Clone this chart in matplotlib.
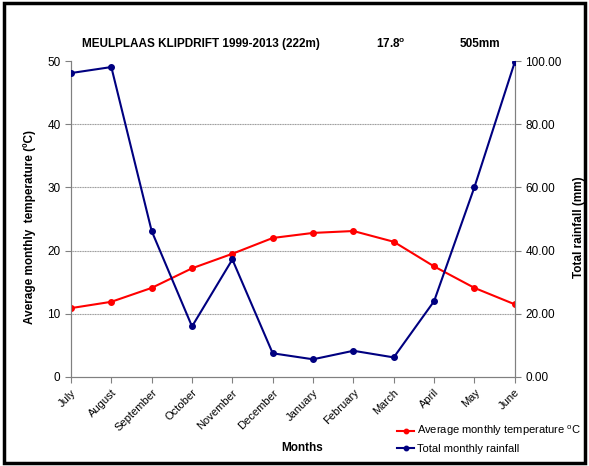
import numpy as np
import matplotlib.pyplot as plt
from matplotlib.patches import Rectangle

plt.rcParams['font.family'] = ['Liberation Sans', 'DejaVu Sans']

# data
months = ["July", "August", "September", "October", "November", "December",
          "January", "February", "March", "April", "May", "June"]
temp = [10.9, 11.9, 14.1, 17.2, 19.5, 22.0, 22.8, 23.1, 21.4, 17.5, 14.1, 11.5]
rain = [96.2, 98.1, 46.2, 16.0, 37.2, 7.5, 5.6, 8.3, 6.2, 24.0, 60.1, 99.7]

title = "MEULPLAAS KLIPDRIFT 1999-2013 (222m)"
mean_temp = "17.8$^{\\mathregular{o}}$"
total_rain = "505mm"

fig = plt.figure(figsize=(5.89, 4.66), dpi=100)
ax = fig.add_axes([0.1205, 0.191, 0.7535, 0.678])
ax2 = ax.twinx()

x = np.arange(len(months))

ax.set_ylim(0, 50)
ax.set_yticks([0, 10, 20, 30, 40, 50])
ax2.set_ylim(0, 100)
ax2.set_yticks([0, 20, 40, 60, 80, 100])
ax2.set_yticklabels([f"{v:.2f}" for v in [0, 20, 40, 60, 80, 100]])
ax.set_xlim(0, len(months) - 1)

for yv in [10, 20, 30, 40]:
    ax.axhline(yv, color="#999999", lw=0.8, ls=(0, (1, 0.5)), zorder=0)

l1, = ax.plot(x, temp, color="#ff0000", marker="o", ms=4, lw=1.5, zorder=3,
              label="Average monthly temperature $^{\\mathregular{o}}$C")
l2, = ax2.plot(x, rain, color="#000080", marker="o", ms=4, lw=1.5, zorder=3,
               label="Total monthly rainfall")

for a in (ax, ax2):
    a.spines["top"].set_visible(False)
    for s in ("left", "right", "bottom"):
        a.spines[s].set_color("#808080")
    a.tick_params(colors="#808080", labelcolor="black", labelsize=8.5,
                  length=4, direction="out")

ax.set_xticks(x)
ax.set_xticklabels(months, rotation=45, ha="right", rotation_mode="anchor",
                   fontsize=8)

ax.set_ylabel("Average monthly  temperature (ºC)", fontsize=8.5,
              fontweight="bold", labelpad=8, y=0.475)
ax2.set_ylabel("Total rainfall (mm)", fontsize=8.5, fontweight="bold",
               labelpad=8, y=0.475)

fig.text(0.139, 0.906, title, fontsize=8.5, fontweight="bold", va="center")
fig.text(0.638, 0.906, mean_temp, fontsize=8.5, fontweight="bold", va="center")
fig.text(0.781, 0.906, total_rain, fontsize=8.5, fontweight="bold", va="center")
fig.text(0.513, 0.038, "Months", fontsize=8.5, fontweight="bold",
         ha="center", va="center")

fig.legend(handles=[l1, l2], loc="center left",
           bbox_to_anchor=(0.664, 0.058), frameon=False, fontsize=8,
           handlelength=1.6, handletextpad=0.2, labelspacing=0.5,
           markerscale=0.8, borderpad=0)

fig.add_artist(Rectangle((0.007, 0.007), 0.986, 0.986, transform=fig.transFigure,
                         fill=False, ec="black", lw=2.5))

plt.savefig("out.png", dpi=100)
